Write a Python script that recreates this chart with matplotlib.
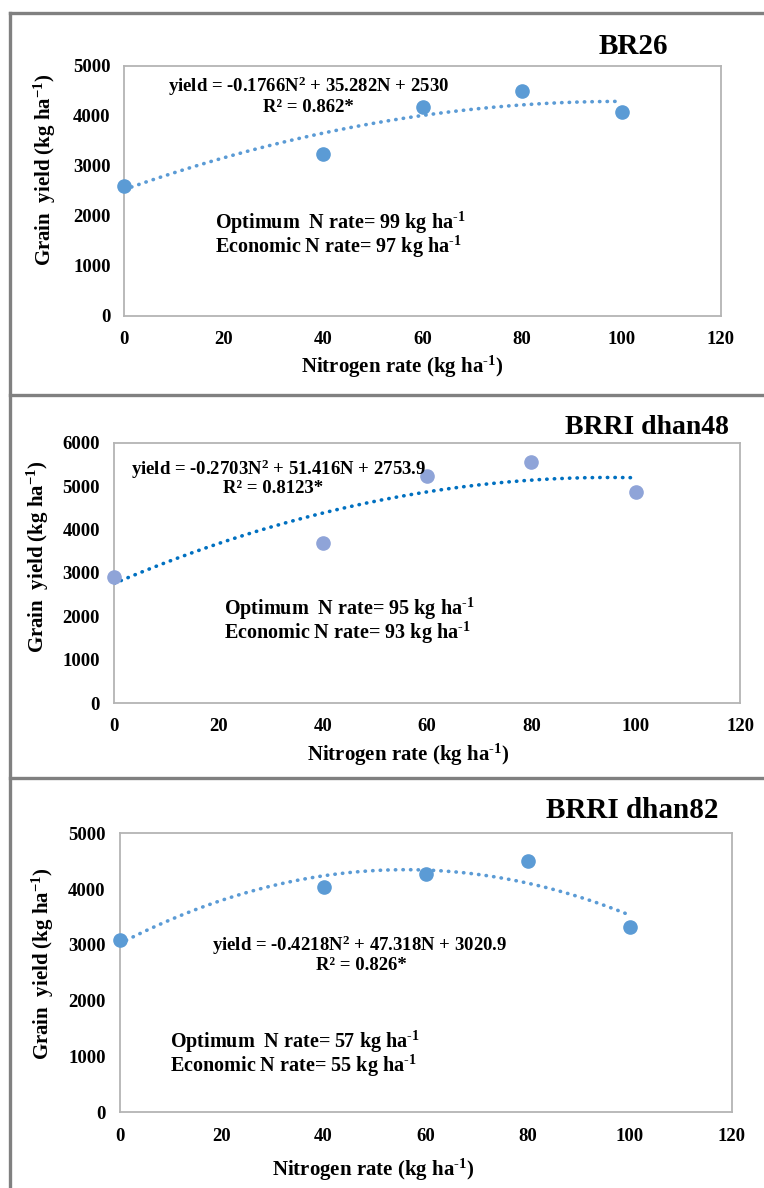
import numpy as np
import matplotlib
matplotlib.use("Agg")
import matplotlib.pyplot as plt
from matplotlib.lines import Line2D

plt.rcParams['font.family'] = ['Liberation Serif', 'DejaVu Serif']
plt.rcParams['font.weight'] = 'bold'
plt.rcParams['mathtext.fontset'] = 'custom'
plt.rcParams['mathtext.rm'] = 'Liberation Serif:bold'
plt.rcParams['mathtext.it'] = 'Liberation Serif:bold:italic'
plt.rcParams['mathtext.bf'] = 'Liberation Serif:bold'
plt.rcParams['mathtext.default'] = 'rm'

# data
n_rate = [0, 40, 60, 80, 100]
yield_br26 = [2610, 3250, 4190, 4500, 4080]
yield_dhan48 = [2910, 3690, 5240, 5560, 4870]
yield_dhan82 = [3080, 4030, 4270, 4500, 3320]

# trendline coefficients (from the printed equations)
coef_br26 = [-0.1766, 35.282, 2530]
coef_dhan48 = [-0.2703, 51.416, 2753.9]
coef_dhan82 = [-0.4218, 47.318, 3020.9]

titles = ['BR26', 'BRRI dhan48', 'BRRI dhan82']
equations = ['yield = -0.1766N$^{2}$ + 35.282N + 2530',
             'yield = -0.2703N$^{2}$ + 51.416N + 2753.9',
             'yield = -0.4218N$^{2}$ + 47.318N + 3020.9']
r2_texts = ['R² = 0.862*', 'R² = 0.8123*', 'R² = 0.826*']
opt_rates = [99, 95, 57]
eco_rates = [97, 93, 55]
y_max = [5000, 6000, 5000]

W, H = 764, 1188
SUP = '$^{\u2010' + '1}$'


def px(x, y):
    return x / W, 1 - y / H


fig = plt.figure(figsize=(W / 100, H / 100), dpi=100)

# panel frames
border = '#808080'
for y in (13, 395, 778):
    fig.add_artist(Line2D([10 / W, 1], [1 - y / H] * 2, color=border, lw=2.4))
fig.add_artist(Line2D([10 / W] * 2, [1 - 13 / H, 0], color=border, lw=2.4))

# layout per panel (pixels)
axes_px = [(124.4, 66, 721, 316), (114, 442.7, 740, 703), (119.5, 833.3, 731.7, 1112.3)]
title_pos = [(668, 47, 21), (729, 427, 20), (719, 810, 21)]
eq_pos = [(168, 86, 308, 107), (131, 469, 273, 489), (212, 945, 361, 965)]
opt_pos = [(215, 223, 247), (224, 609, 633), (170, 1042, 1066)]
xlab_pos = [(402, 367), (408, 755), (373, 1170)]
ylab_pos = [(45, 170), (38, 557), (43, 964)]

series = [yield_br26, yield_dhan48, yield_dhan82]
coefs = [coef_br26, coef_dhan48, coef_dhan82]
marker_colors = ['#5B9BD5', '#8FA4D8', '#5B9BD5']
line_colors = ['#5B9BD5', '#0070C0', '#5B9BD5']

for i in range(3):
    x0, y0, x1, y1 = axes_px[i]
    ax = fig.add_axes([x0 / W, 1 - y1 / H, (x1 - x0) / W, (y1 - y0) / H])
    ax.set_xlim(0, 120)
    ax.set_ylim(0, y_max[i])
    ax.set_xticks(range(0, 121, 20))
    ax.set_yticks(range(0, y_max[i] + 1, 1000))
    ax.tick_params(length=0, labelsize=13.5, pad=11)
    ax.tick_params(axis='y', pad=10)
    for lab in ax.get_xticklabels() + ax.get_yticklabels():
        lab.set_fontweight('bold')
    for sp in ax.spines.values():
        sp.set_color('#B4B4B4')
        sp.set_linewidth(1.3)

    nn = np.linspace(0, 100, 200)
    ax.plot(nn, np.polyval(coefs[i], nn), color=line_colors[i], lw=2.6,
            dashes=(0.1, 2.0), dash_capstyle='round', zorder=2)
    ax.plot(n_rate, series[i], 'o', ms=9.5, color=marker_colors[i],
            zorder=3, clip_on=False)

    tx, ty, ts = title_pos[i]
    fig.text(*px(tx, ty), titles[i], ha='right', va='center', fontsize=ts, fontweight='bold')
    ex, ey, rx, ry = eq_pos[i]
    fig.text(*px(ex, ey), equations[i], ha='left', va='center', fontsize=13.5, fontweight='bold')
    fig.text(*px(rx, ry), r2_texts[i], ha='center', va='center', fontsize=13.5, fontweight='bold')
    ox, oy1, oy2 = opt_pos[i]
    fig.text(*px(ox, oy1), 'Optimum  N rate= %d kg ha' % opt_rates[i] + SUP,
             ha='left', va='center', fontsize=14.5, fontweight='bold')
    fig.text(*px(ox, oy2), 'Economic N rate= %d kg ha' % eco_rates[i] + SUP,
             ha='left', va='center', fontsize=14.5, fontweight='bold')
    fig.text(*px(*xlab_pos[i]), 'Nitrogen rate (kg ha' + SUP + ')', ha='center', va='center',
             fontsize=15, fontweight='bold')
    fig.text(*px(*ylab_pos[i]), 'Grain  yield (kg ha$^{-1}$)', ha='center', va='center',
             rotation=90, fontsize=15, fontweight='bold')

fig.savefig('out.png', dpi=100, facecolor='white')
